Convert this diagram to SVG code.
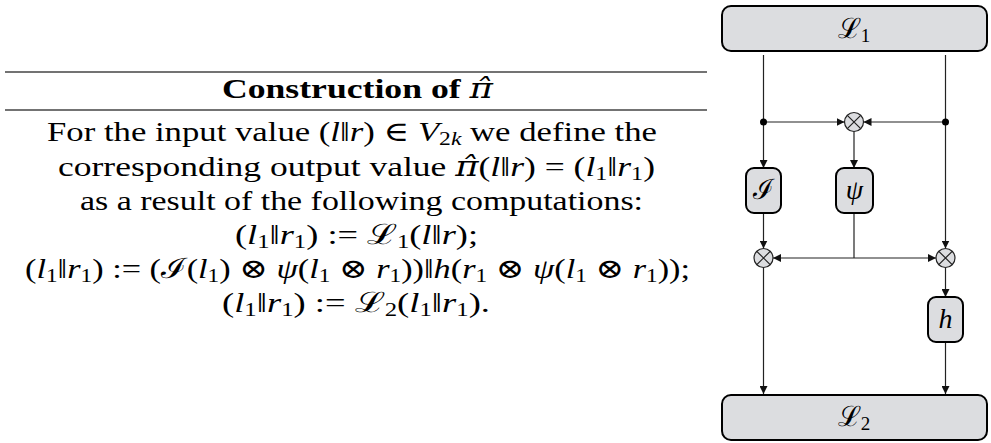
<svg xmlns="http://www.w3.org/2000/svg" width="991" height="443" viewBox="0 0 991 443">
<style>
.t{font-family:"Liberation Serif","DejaVu Serif",serif;font-size:28px;fill:#000;text-anchor:middle}
.m{font-style:italic}
.b{font-weight:bold}
.s{font-size:19px}
.hat{font-family:"DejaVu Serif",serif;font-style:italic;font-weight:normal}
.box{fill:#dcdde0;stroke:#000;stroke-width:2}
.ln{fill:none;stroke:#222;stroke-width:1.2}
.ot{fill:#dcdde0;stroke:#222;stroke-width:1.2}
.rule{stroke:#444;stroke-width:1.5}
</style>
<defs>
<marker id="ah" markerUnits="userSpaceOnUse" markerWidth="9" markerHeight="8" refX="8" refY="4" orient="auto">
<path d="M0,0 L8,4 L0,8 Z" fill="#111"/>
</marker>
</defs>
<rect width="991" height="443" fill="#fff"/>
<g id="table">
<line class="rule" x1="5" y1="72" x2="707" y2="72"/>
<line class="rule" x1="5" y1="110" x2="707" y2="110"/>
<text class="t b" x="357.5" y="98" textLength="271" lengthAdjust="spacingAndGlyphs">Construction of <tspan class="hat">π̂</tspan></text>
<text class="t" x="352" y="141" textLength="610" lengthAdjust="spacingAndGlyphs">For the input value (<tspan class="m">l</tspan>‖<tspan class="m">r</tspan>) ∈ <tspan class="m">V</tspan><tspan class="s" dy="4">2<tspan class="m">k</tspan></tspan><tspan dy="-4"> we define the</tspan></text>
<text class="t" x="356.5" y="176" textLength="597" lengthAdjust="spacingAndGlyphs">corresponding output value <tspan class="hat">π̂</tspan>(<tspan class="m">l</tspan>‖<tspan class="m">r</tspan>) = (<tspan class="m">l</tspan><tspan class="s" dy="4">1</tspan><tspan dy="-4">‖</tspan><tspan class="m">r</tspan><tspan class="s" dy="4">1</tspan><tspan dy="-4">)</tspan></text>
<text class="t" x="361.5" y="210" textLength="563" lengthAdjust="spacingAndGlyphs">as a result of the following computations:</text>
<text class="t" x="356.5" y="244" textLength="243" lengthAdjust="spacingAndGlyphs">(<tspan class="m">l</tspan><tspan class="s" dy="4">1</tspan><tspan dy="-4">‖</tspan><tspan class="m">r</tspan><tspan class="s" dy="4">1</tspan><tspan dy="-4">) := ℒ</tspan><tspan class="s" dy="4">1</tspan><tspan dy="-4">(</tspan><tspan class="m">l</tspan>‖<tspan class="m">r</tspan>);</text>
<text class="t" x="357.5" y="278" textLength="665" lengthAdjust="spacingAndGlyphs">(<tspan class="m">l</tspan><tspan class="s" dy="4">1</tspan><tspan dy="-4">‖</tspan><tspan class="m">r</tspan><tspan class="s" dy="4">1</tspan><tspan dy="-4">) := (ℐ(</tspan><tspan class="m">l</tspan><tspan class="s" dy="4">1</tspan><tspan dy="-4">) ⊗ </tspan><tspan class="m">ψ</tspan>(<tspan class="m">l</tspan><tspan class="s" dy="4">1</tspan><tspan dy="-4"> ⊗ </tspan><tspan class="m">r</tspan><tspan class="s" dy="4">1</tspan><tspan dy="-4">))‖</tspan><tspan class="m">h</tspan>(<tspan class="m">r</tspan><tspan class="s" dy="4">1</tspan><tspan dy="-4"> ⊗ </tspan><tspan class="m">ψ</tspan>(<tspan class="m">l</tspan><tspan class="s" dy="4">1</tspan><tspan dy="-4"> ⊗ </tspan><tspan class="m">r</tspan><tspan class="s" dy="4">1</tspan><tspan dy="-4">));</tspan></text>
<text class="t" x="356" y="312" textLength="268" lengthAdjust="spacingAndGlyphs">(<tspan class="m">l</tspan><tspan class="s" dy="4">1</tspan><tspan dy="-4">‖</tspan><tspan class="m">r</tspan><tspan class="s" dy="4">1</tspan><tspan dy="-4">) := ℒ</tspan><tspan class="s" dy="4">2</tspan><tspan dy="-4">(</tspan><tspan class="m">l</tspan><tspan class="s" dy="4">1</tspan><tspan dy="-4">‖</tspan><tspan class="m">r</tspan><tspan class="s" dy="4">1</tspan><tspan dy="-4">).</tspan></text>
</g>
<g id="connectors">
<line class="ln" x1="763.5" y1="55" x2="763.5" y2="168" marker-end="url(#ah)"/>
<line class="ln" x1="945.5" y1="55" x2="945.5" y2="248.5" marker-end="url(#ah)"/>
<line class="ln" x1="763.5" y1="122" x2="844.5" y2="122" marker-end="url(#ah)"/>
<line class="ln" x1="945.5" y1="122" x2="863.5" y2="122" marker-end="url(#ah)"/>
<line class="ln" x1="854" y1="131.5" x2="854" y2="168" marker-end="url(#ah)"/>
<line class="ln" x1="763.5" y1="213" x2="763.5" y2="248.5" marker-end="url(#ah)"/>
<line class="ln" x1="854" y1="213" x2="854" y2="258"/>
<line class="ln" x1="854" y1="258" x2="773" y2="258" marker-end="url(#ah)"/>
<line class="ln" x1="854" y1="258" x2="936" y2="258" marker-end="url(#ah)"/>
<line class="ln" x1="763.5" y1="267.5" x2="763.5" y2="394" marker-end="url(#ah)"/>
<line class="ln" x1="945.5" y1="267.5" x2="945.5" y2="297" marker-end="url(#ah)"/>
<line class="ln" x1="945.5" y1="342" x2="945.5" y2="394" marker-end="url(#ah)"/>
<circle cx="763.5" cy="122" r="3.5" fill="#000"/>
<circle cx="945.5" cy="122" r="3.5" fill="#000"/>
</g>
<g id="L1">
<rect class="box" x="722" y="6" width="265" height="45" rx="9"/>
<text class="t" x="854" y="38">ℒ<tspan class="s" dy="4">1</tspan></text>
</g>
<g id="xor-top">
<circle class="ot" cx="854" cy="122" r="9.5"/>
<path class="ln" d="M847.3,115.3 L860.7,128.7 M860.7,115.3 L847.3,128.7"/>
</g>
<g id="I">
<rect class="box" x="746" y="168" width="35" height="45" rx="8"/>
<text class="t" x="763.5" y="199">ℐ</text>
</g>
<g id="psi">
<rect class="box" x="836" y="168" width="37" height="45" rx="8"/>
<text class="t m" x="854.5" y="199">ψ</text>
</g>
<g id="xor-left">
<circle class="ot" cx="763.5" cy="258" r="9.5"/>
<path class="ln" d="M756.8,251.3 L770.2,264.7 M770.2,251.3 L756.8,264.7"/>
</g>
<g id="xor-right">
<circle class="ot" cx="945.5" cy="258" r="9.5"/>
<path class="ln" d="M938.8,251.3 L952.2,264.7 M952.2,251.3 L938.8,264.7"/>
</g>
<g id="h">
<rect class="box" x="928" y="297" width="35" height="45" rx="8"/>
<text class="t m" x="945.5" y="328">h</text>
</g>
<g id="L2">
<rect class="box" x="722" y="395" width="265" height="45" rx="9"/>
<text class="t" x="854" y="426">ℒ<tspan class="s" dy="4">2</tspan></text>
</g>
</svg>
